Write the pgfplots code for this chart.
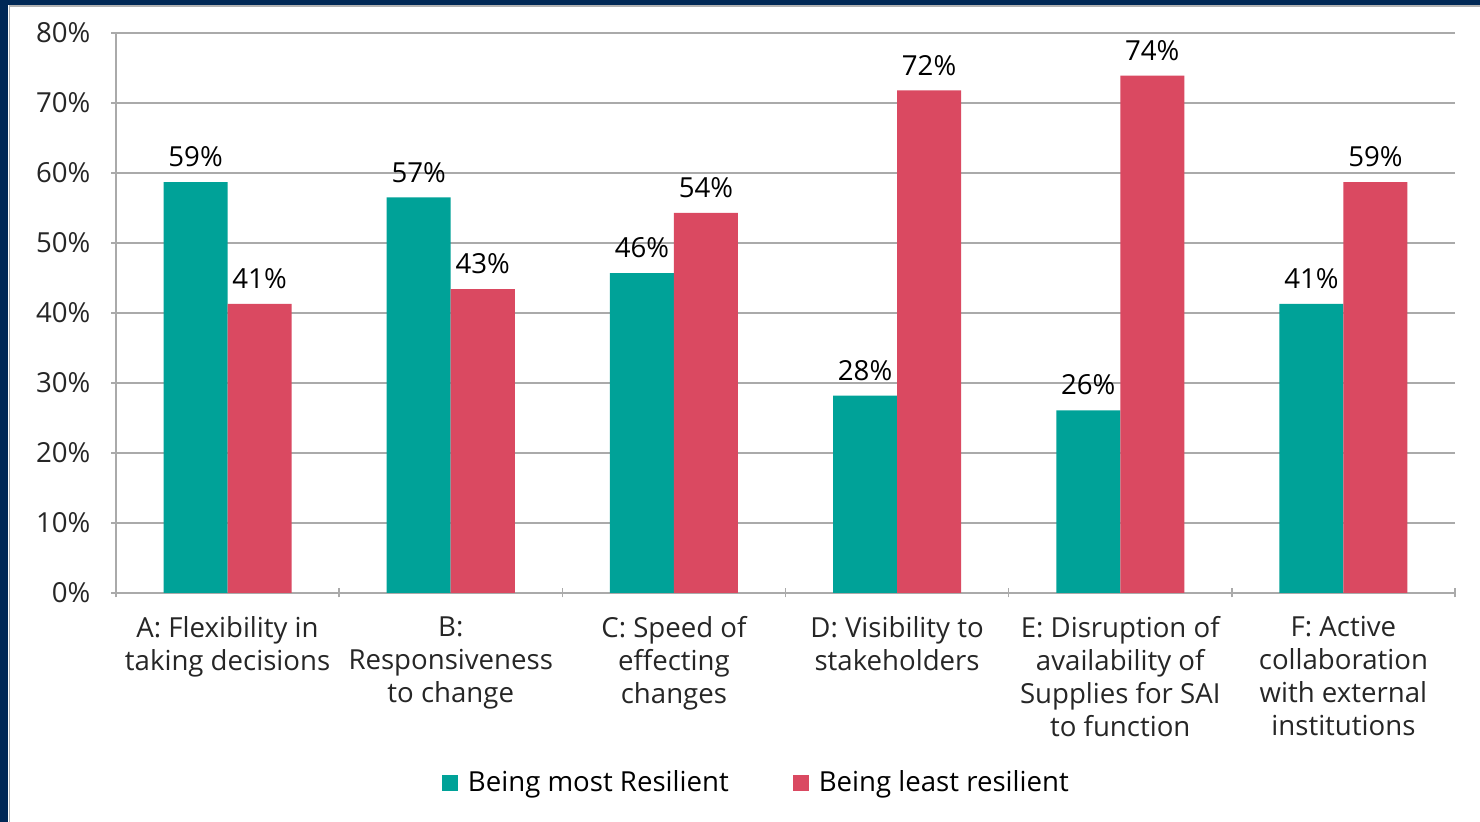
\documentclass[border=0pt]{standalone}
\usepackage{fontspec}
\setmainfont{Open Sans}
\usepackage{pgfplots}
\pgfplotsset{compat=1.18}
\definecolor{navy}{RGB}{0,40,86}
\definecolor{teal1}{RGB}{0,162,152}
\definecolor{red1}{RGB}{218,73,97}
\definecolor{gridgray}{RGB}{170,170,170}
\begin{document}
\begin{tikzpicture}
\useasboundingbox (0,0) rectangle (740pt,411pt);
\fill[white] (0,0) rectangle (740pt,411pt);
\fill[navy] (0,0) rectangle (4pt,411pt);
\fill[navy] (0,408.5pt) rectangle (740pt,411pt);
\draw[gray!60, line width=0.6pt] (4.6pt,0) -- (4.6pt,408pt) -- (740pt,408pt);
\begin{axis}[
  at={(58pt,114.5pt)}, anchor=south west,
  scale only axis, width=669.5pt, height=280pt,
  ybar=0pt, bar width=32pt,
  xmin=-0.5, xmax=5.5, ymin=0, ymax=80,
  xtick={0,1,2,3,4,5},
  xticklabels={{A: Flexibility in\\taking decisions},{B:\\Responsiveness\\to change},{C: Speed of\\effecting\\changes},{D: Visibility to\\stakeholders},{E: Disruption of\\availability of\\Supplies for SAI\\to function},{F: Active\\collaboration\\with external\\institutions}},
  xticklabel style={align=center, font=\fontsize{13.8}{16.5}\selectfont, text=black!85, yshift=-6pt},
  minor xtick={-0.5,0.5,...,5.5},
  xtick style={draw=none},
  minor x tick style={draw=gridgray, line width=0.8pt},
  ytick={0,10,...,80},
  yticklabel={\pgfmathprintnumber{\tick}\%},
  yticklabel style={font=\fontsize{13.8}{16.5}\selectfont, text=black!85, xshift=-7pt},
  ytick style={draw=gridgray, line width=0.8pt},
  tick align=outside, major tick length=4.5pt, minor tick length=4.5pt,
  /pgf/number format/assume math mode=true,
  ymajorgrids, grid style={gridgray, line width=0.8pt},
  axis x line=bottom, axis y line=left,
  axis line style={-, draw=gridgray, line width=0.8pt},
  nodes near coords={\pgfmathprintnumber[fixed,precision=0]{\pgfplotspointmeta}\%},
  every node near coord/.append style={font=\fontsize{13.8}{16.5}\selectfont, text=black, yshift=4pt},
  legend style={at={(axis description cs:0.479,-0.339)}, anchor=center, draw=none, legend columns=2, font=\fontsize{13.8}{16.5}\selectfont, /tikz/every even column/.append style={column sep=30pt}},
  legend image code/.code={\fill[#1] (0pt,-4pt) rectangle (8pt,4pt);},
  legend cell align=left,
]
\addplot[fill=teal1, draw=none] coordinates {(0,58.7) (1,56.5) (2,45.7) (3,28.2) (4,26.1) (5,41.3)};
\addplot[fill=red1, draw=none] coordinates {(0,41.3) (1,43.4) (2,54.3) (3,71.8) (4,73.9) (5,58.7)};
\legend{\hspace{3pt}Being most Resilient, \hspace{3pt}Being least resilient}
\end{axis}
\end{tikzpicture}
\end{document}
